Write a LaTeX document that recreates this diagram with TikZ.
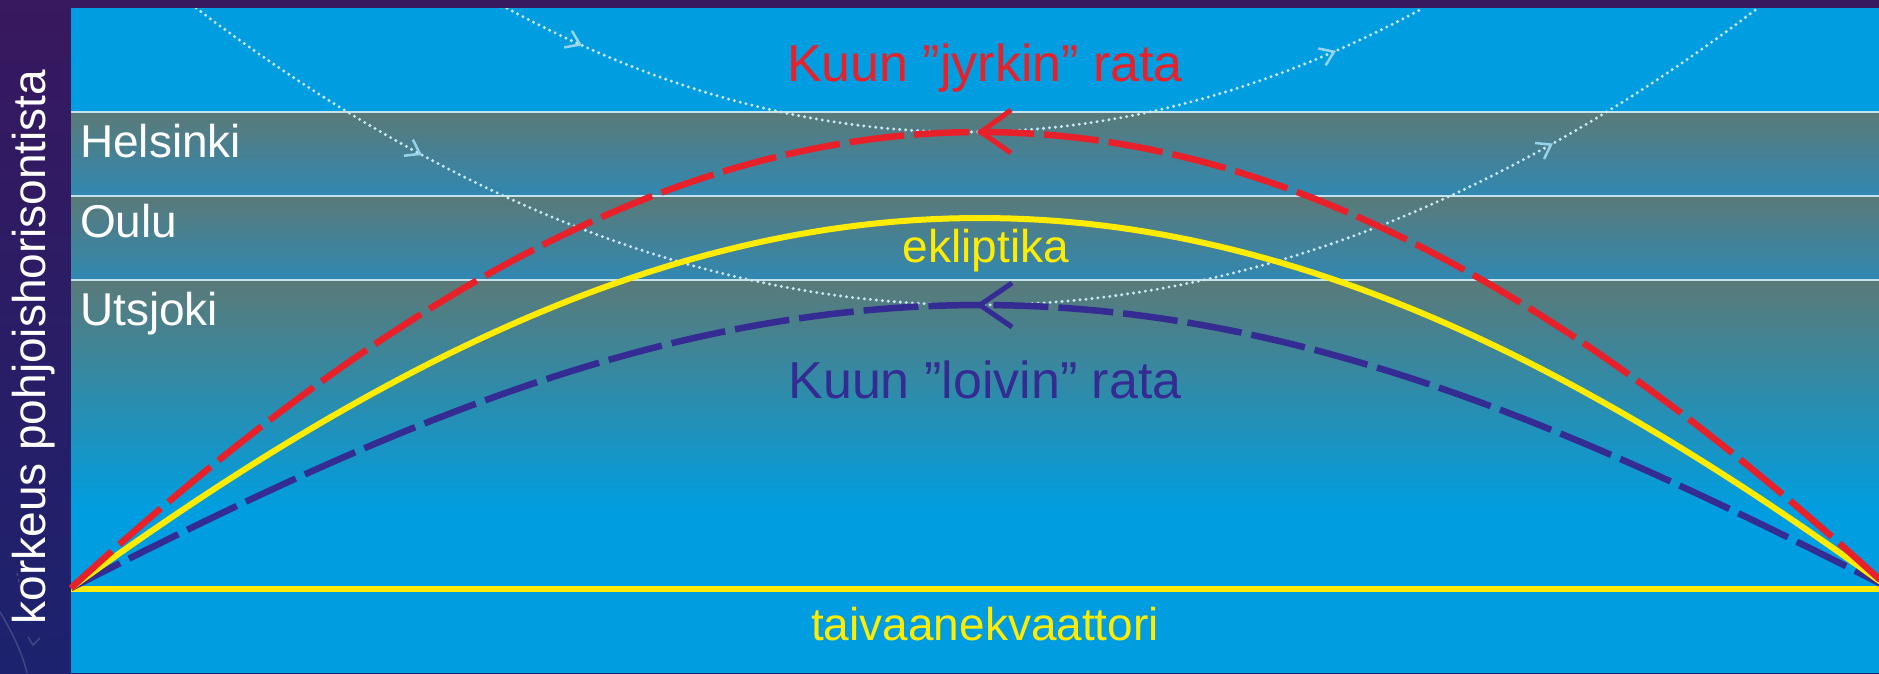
\documentclass[tikz,border=0pt]{standalone}
\usepackage{fontspec}
\setmainfont{Liberation Sans}
\usetikzlibrary{calc}
\definecolor{panelblue}{RGB}{0,158,224}
\definecolor{darkA}{RGB}{56,24,94}
\definecolor{darkB}{RGB}{28,34,110}
\definecolor{bandgray}{RGB}{90,122,120}
\definecolor{bandteal}{RGB}{48,136,178}
\definecolor{bandmid}{RGB}{34,142,190}
\definecolor{lineclr}{RGB}{196,226,236}
\definecolor{dotclr}{RGB}{205,232,245}
\definecolor{chevclr}{RGB}{150,212,236}
\definecolor{moonred}{RGB}{232,32,42}
\definecolor{moonblue}{RGB}{52,44,146}
\definecolor{eclyellow}{RGB}{255,236,0}
\begin{document}
\begin{tikzpicture}[x=1pt,y=-1pt]
\tikzset{
  citylabel/.style={anchor=base west, inner sep=0pt, text=white, font=\fontsize{46}{50}\selectfont},
  orbitlabel/.style={anchor=base, inner sep=0pt, font=\fontsize{52}{56}\selectfont},
  smalllabel/.style={anchor=base, inner sep=0pt, font=\fontsize{46}{50}\selectfont},
  bandline/.style={draw=lineclr, line width=2.5pt},
  moonpath/.style={line width=6.5pt, dash pattern=on 55pt off 10pt},
  dotpath/.style={draw=dotclr, line width=3.3pt, line cap=round, dash pattern=on 0pt off 6pt},
  chev/.style={draw=chevclr, line width=2.5pt},
  bigchev/.style={line width=5pt},
  faint/.style={draw=white, opacity=0.16, line width=1.5pt},
}
\useasboundingbox (0,0) rectangle (1879,673);
% dark frame
\shade[top color=darkA, bottom color=darkB] (0,0) rectangle (1879,673);
\draw[faint] (0,612) .. controls (12,632) and (22,652) .. (27,673);
\draw[faint] (28,637) -- (33,645) -- (40,638);
\draw[faint, dashed] (17,573) -- (21,590);
% panel
\fill[panelblue] (71,8) rectangle (1879,673);
% bands
\shade[top color=bandgray, bottom color=bandteal] (71,112) rectangle (1879,196);
\shade[top color=bandgray, bottom color=bandteal] (71,196) rectangle (1879,280);
\shade[top color=bandgray, middle color=bandmid, bottom color=panelblue] (71,280) rectangle (1879,510);
\coordinate (hL) at (71,112); \coordinate (hR) at (1879,112);
\coordinate (oL) at (71,196); \coordinate (oR) at (1879,196);
\coordinate (uL) at (71,280); \coordinate (uR) at (1879,280);
\draw[bandline] (hL) -- (hR);
\draw[bandline] (oL) -- (oR);
\draw[bandline] (uL) -- (uR);
% dotted paths
\begin{scope}
\clip (71,8) rectangle (1879,673);
\draw[dotpath] plot[domain=-4.58:4.58, samples=100] ({965+100*\x},{132-5.9*\x*\x});
\draw[dotpath] plot[domain=-7.81:8.0, samples=120] ({977+100*\x},{305-4.87*\x*\x});
\end{scope}
\coordinate (ca1) at (580,44.5);
\coordinate (ca2) at (1334,51.7);
\coordinate (cb1) at (420,153.9);
\coordinate (cb2) at (1551,144.6);
\draw[chev] ([shift={(24.4+145:16)}]ca1) -- (ca1) -- ([shift={(24.4+215:16)}]ca1);
\draw[chev] ([shift={(-23.5+145:16)}]ca2) -- (ca2) -- ([shift={(-23.5+215:16)}]ca2);
\draw[chev] ([shift={(28.5+145:16)}]cb1) -- (cb1) -- ([shift={(28.5+215:16)}]cb1);
\draw[chev] ([shift={(-29.2+145:16)}]cb2) -- (cb2) -- ([shift={(-29.2+215:16)}]cb2);
% equator
\coordinate (eqL) at (71,589);
\coordinate (eqR) at (1879,589);
\draw[eclyellow, line width=6pt] (eqL) -- (eqR);
% arcs
\draw[moonpath, draw=moonblue] plot[domain=-1:1, samples=121] ({980+909*\x},{588-283*(0.15*(1-\x*\x)+0.85*cos(90*\x))});
\draw[eclyellow, line width=6pt] plot[domain=-1:1, samples=121] ({980+909*\x},{588-370*(0.5*(1-\x*\x)+0.5*cos(90*\x))});
\draw[moonpath, draw=moonred] plot[domain=-1:1, samples=121] ({980+909*\x},{588-456*(0.6*(1-\x*\x)+0.4*cos(90*\x))});
% arrowheads on arcs
\coordinate (rtip) at (981,132);
\coordinate (ra1) at (1011,110);
\coordinate (ra2) at (1011,153);
\draw[bigchev, moonred] (ra1) -- (rtip) -- (ra2);
\coordinate (btip) at (980,305);
\coordinate (ba1) at (1012,283);
\coordinate (ba2) at (1012,327);
\draw[bigchev, moonblue] (ba1) -- (btip) -- (ba2);
% labels
\node[citylabel] (hel) at (80,157) {Helsinki};
\node[citylabel] (oul) at (80,237) {Oulu};
\node[citylabel] (uts) at (80,325) {Utsjoki};
\node[orbitlabel, text=moonred] (jyrk) at (985,81) {Kuun ”jyrkin” rata};
\node[smalllabel, text=eclyellow] (ekl) at (986,262) {ekliptika};
\node[orbitlabel, text=moonblue] (loiv) at (985,398) {Kuun ”loivin” rata};
\node[smalllabel, text=eclyellow] (taiv) at (985,640) {taivaanekvaattori};
\node[anchor=base, inner sep=0pt, text=white, rotate=90, font=\fontsize{46}{50}\selectfont] (axis) at (45,347) {korkeus pohjoishorisontista};
\end{tikzpicture}
\end{document}
